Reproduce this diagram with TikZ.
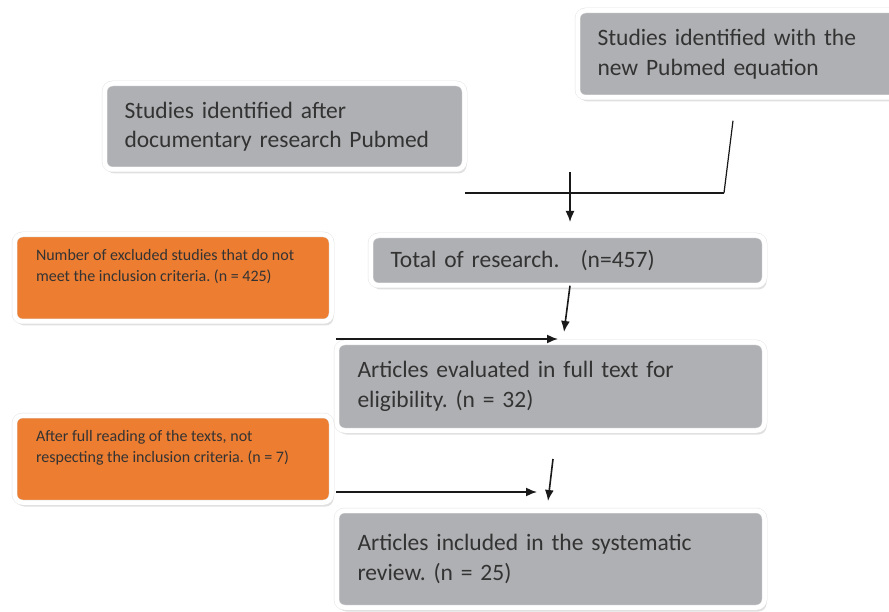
\documentclass[tikz,border=0pt]{standalone}
\usepackage{fontspec}
\setmainfont{Carlito}
\usepackage{xcolor}
\usepackage{tikz}
\usetikzlibrary{shadows,calc,arrows.meta}
\definecolor{boxgray}{HTML}{AFB0B3}
\definecolor{boxorange}{HTML}{ED7D31}
\definecolor{textgray}{HTML}{333333}
\tikzstyle{node:box}=[rectangle, rounded corners=8pt, draw=gray!20, double=white, double distance=4.5pt, line width=0.5pt, text=textgray, inner xsep=20pt, drop shadow={shadow xshift=2pt, shadow yshift=-4pt, opacity=0.3, fill=gray!80}]
\tikzstyle{node:study}=[node:box, fill=boxgray, align=left, font=\fontsize{23.5}{29.5}\selectfont]
\tikzstyle{node:excluded}=[node:box, fill=boxorange, inner xsep=21.5pt, inner ysep=15pt, font=\fontsize{16}{21}\selectfont]
\tikzstyle{draw:connection}=[-{Latex[length=11pt, width=9pt]}, line width=1.6pt, black!90]
\tikzstyle{draw:line}=[line width=1.2pt, black!90]
\newcommand{\toptext}[1]{\parbox[c][57pt][t]{274pt}{\raggedright #1}}

\begin{document}
\frenchspacing
\begin{tikzpicture}[x=1pt, y=-1pt]
        \fill[white] (0,0) rectangle (889,612);
        \useasboundingbox (0,0) rectangle (889,612);

        % Sources
        \node[node:study, text width=285pt, minimum height=87pt] (newsearch) at (740,54) {Studies identified with the\\new Pubmed equation};
        \node[node:study, text width=320pt, minimum height=86pt] (pubmed) at (284.5,126.5) {Studies identified after\\documentary research Pubmed};

        % Main path
        \node[node:study, text width=354pt, minimum height=50pt] (total) at (567.5,260.5) {Total of research.\hspace{0.9em}(n=457)};
        \node[node:study, text width=386pt, inner xsep=21pt, minimum height=88pt] (fulltext) at (550.5,386.5) {Articles evaluated in full text for\\eligibility. (n = 32)};
        \node[node:study, text width=386pt, inner xsep=21pt, minimum height=97pt] (included) at (550.5,559) {Articles included in the systematic\\review. (n = 25)};

        % Excluded
        \node[node:excluded] (excl1) at (173,278) {\toptext{Number of excluded studies that do not\\meet the inclusion criteria. (n = 425)}};
        \node[node:excluded] (excl2) at (173,459) {\toptext{After full reading of the texts, not\\respecting the inclusion criteria. (n = 7)}};

        % Free ends
        \coordinate (joinR) at (724,193);
        \coordinate (joinL) at (pubmed.east |- joinR);
        \coordinate (mergetop) at (570,172);
        \coordinate (mergetip) at (570,222);
        \coordinate (fulltip) at (564,332);
        \coordinate (fullin) at (558,339);
        \coordinate (inctop) at (553,459);
        \coordinate (inctip) at (548,501);
        \coordinate (incin) at (537,492);

        % Connections
        \draw[draw:line] ($(newsearch.south)+(-7,23)$) -- (joinR);
        \draw[draw:line] (joinL) -- (joinR);
        \draw[draw:connection] (mergetop) -- (mergetip);
        \draw[draw:connection] (total.south -| mergetop) -- (fulltip);
        \draw[draw:connection] ($(excl1.east |- fullin)+(4,0)$) -- (fullin);
        \draw[draw:connection] (inctop) -- (inctip);
        \draw[draw:connection] ($(excl2.east |- incin)+(4,0)$) -- (incin);

    \end{tikzpicture}
\end{document}
